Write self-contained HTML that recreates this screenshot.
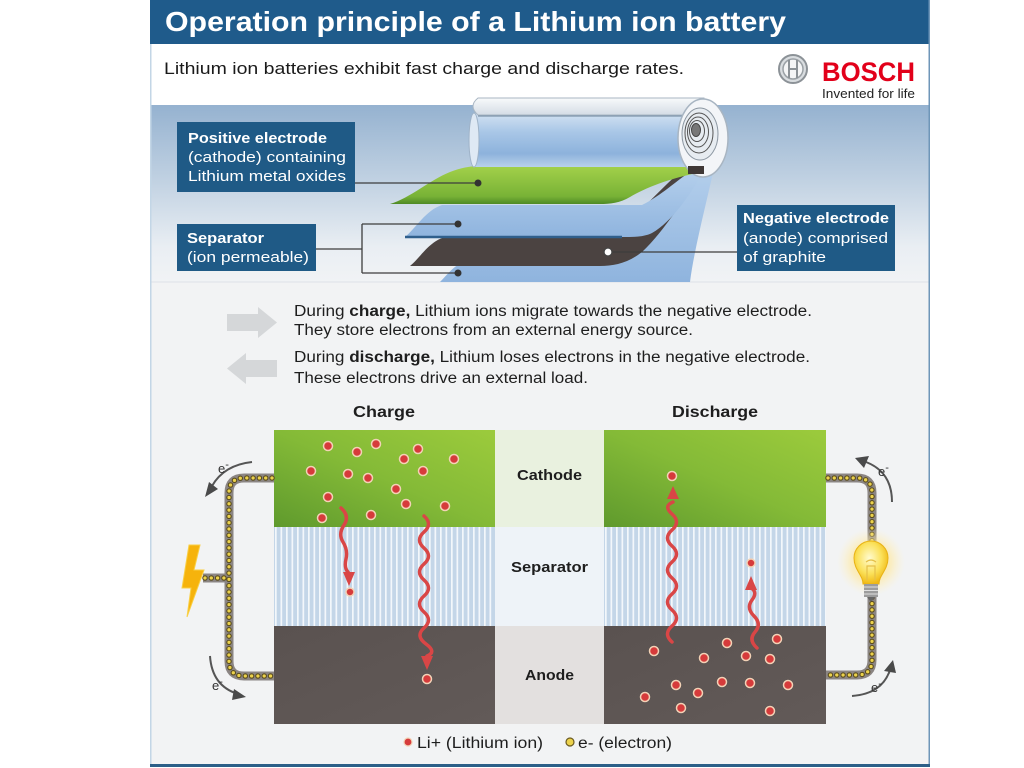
<!DOCTYPE html>
<html><head><meta charset="utf-8"><style>
html,body{margin:0;padding:0;background:#fff;width:1024px;height:768px;overflow:hidden}
svg{display:block}
text{font-family:"Liberation Sans",Arial,sans-serif}
</style></head><body>
<svg width="1024" height="768" viewBox="0 0 1024 768" xmlns="http://www.w3.org/2000/svg">
<defs>
<linearGradient id="band" x1="0" y1="0" x2="0" y2="1">
<stop offset="0" stop-color="#95b2d0"/><stop offset="0.45" stop-color="#c3d3e3"/><stop offset="0.8" stop-color="#e9eef3"/><stop offset="1" stop-color="#f1f3f5"/>
</linearGradient>
<linearGradient id="cyl" x1="0" y1="0" x2="0" y2="1">
<stop offset="0" stop-color="#d3e2f2"/><stop offset="0.35" stop-color="#a9c7e7"/><stop offset="0.75" stop-color="#8db2dc"/><stop offset="1" stop-color="#b9d1ea"/>
</linearGradient>
<linearGradient id="shell" x1="0" y1="0" x2="0" y2="1">
<stop offset="0" stop-color="#f8fafb"/><stop offset="1" stop-color="#d4dce5"/>
</linearGradient>
<linearGradient id="gsheet" x1="0" y1="0" x2="0" y2="1">
<stop offset="0" stop-color="#a3d14a"/><stop offset="0.8" stop-color="#78b236"/><stop offset="1" stop-color="#4e8a25"/>
</linearGradient>
<linearGradient id="bsheet" x1="0" y1="0" x2="0" y2="1">
<stop offset="0" stop-color="#b4cfec"/><stop offset="1" stop-color="#8fb4de"/>
</linearGradient>
<linearGradient id="green" x1="0" y1="1" x2="1" y2="0">
<stop offset="0" stop-color="#5f9a2d"/><stop offset="0.5" stop-color="#84ba37"/><stop offset="1" stop-color="#9ccb3c"/>
</linearGradient>
<linearGradient id="anode" x1="0" y1="0" x2="1" y2="1">
<stop offset="0" stop-color="#5a5250"/><stop offset="1" stop-color="#625a58"/>
</linearGradient>
<pattern id="stripes" width="5.5" height="10" patternUnits="userSpaceOnUse">
<rect width="5.5" height="10" fill="#c4d6e8"/><rect x="0" width="1.7" height="10" fill="#f3f7fb"/>
</pattern>
<radialGradient id="glow" cx="0.5" cy="0.5" r="0.5">
<stop offset="0" stop-color="#ffe27a" stop-opacity="0.95"/><stop offset="0.6" stop-color="#ffe9a0" stop-opacity="0.6"/><stop offset="1" stop-color="#fff3c8" stop-opacity="0"/>
</radialGradient>
<radialGradient id="glass" cx="0.45" cy="0.4" r="0.6">
<stop offset="0" stop-color="#fffbd0"/><stop offset="0.6" stop-color="#fbe15a"/><stop offset="1" stop-color="#f0b915"/>
</radialGradient>
</defs>

<!-- frame -->
<rect x="150" y="0" width="780" height="767" fill="#f2f3f4"/>
<rect x="150" y="0" width="779" height="44" fill="#1f5b8b"/>
<rect x="150" y="44" width="779" height="61" fill="#ffffff"/>
<rect x="150" y="105" width="779" height="177" fill="url(#band)"/>
<line x1="150" y1="282" x2="929" y2="282" stroke="#dde2e7" stroke-width="1"/>
<rect x="150" y="44" width="1.5" height="722" fill="#c3d6e6"/>
<rect x="928.5" y="0" width="1.5" height="767" fill="#6f96b8"/>
<rect x="150" y="764" width="780" height="3" fill="#2c5f88"/>

<!-- title -->
<text x="165" y="31" font-size="28" font-weight="bold" fill="#fff" textLength="621" lengthAdjust="spacingAndGlyphs">Operation principle of a Lithium ion battery</text>
<text x="164" y="74" font-size="17" fill="#1a1a1a" textLength="520" lengthAdjust="spacingAndGlyphs">Lithium ion batteries exhibit fast charge and discharge rates.</text>

<!-- bosch logo -->
<circle cx="793" cy="69" r="14" fill="#d9dde0" stroke="#8c9297" stroke-width="2"/>
<circle cx="793" cy="69" r="10" fill="#f4f5f6" stroke="#9aa0a5" stroke-width="1.5"/>
<line x1="789" y1="60" x2="789" y2="78" stroke="#8c9297" stroke-width="2"/>
<line x1="797" y1="60" x2="797" y2="78" stroke="#8c9297" stroke-width="2"/>
<line x1="789" y1="69" x2="797" y2="69" stroke="#8c9297" stroke-width="2"/>
<text x="822" y="81" font-size="27" font-weight="bold" fill="#e2001a" textLength="93" lengthAdjust="spacingAndGlyphs">BOSCH</text>
<text x="822" y="98" font-size="13" fill="#222" textLength="93" lengthAdjust="spacingAndGlyphs">Invented for life</text>

<!-- battery roll illustration -->
<path d="M440,282 C450,272 456,262 472,260 L602,260 C640,248 666,200 690,172 L714,168 C706,205 694,250 690,282 Z" fill="url(#bsheet)"/>
<path d="M410,266 C420,258 430,240 446,237 L596,237 C628,230 652,196 680,172 L704,172 C688,192 664,232 642,252 C628,263 614,266 600,266 Z" fill="#4b4341"/>
<path d="M405,237 C416,228 426,210 442,205 L642,205 C662,195 676,181 690,172 L702,174 C692,192 672,222 652,233 C644,237 634,237 622,237 Z" fill="url(#bsheet)"/>
<path d="M405,237 L622,237" stroke="#2f5f8c" stroke-width="2.5"/>
<path d="M390,204 C410,198 430,180 450,172 C460,168 470,166 480,166 L688,166 C698,166 702,170 698,173 C680,176 650,185 630,197 C620,203 610,204 600,204 Z" fill="url(#gsheet)"/>
<rect x="474" y="113" width="228" height="54" fill="url(#cyl)"/>
<ellipse cx="474" cy="140" rx="5" ry="27" fill="#dfe9f4" stroke="#9fb3c8" stroke-width="1"/>
<path d="M478,98 L704,98 L704,115 L478,115 Q468,106 478,98 Z" fill="url(#shell)" stroke="#a9b6c3" stroke-width="1"/>
<line x1="478" y1="116" x2="700" y2="116" stroke="#7f95aa" stroke-width="1.2"/>
<ellipse cx="703" cy="138" rx="25" ry="39" fill="#f3f5f8" stroke="#a8b5c2" stroke-width="1.5"/>
<ellipse cx="700" cy="134" rx="18" ry="26" fill="#e7ecf1" stroke="#8b96a1" stroke-width="1"/>
<ellipse cx="699" cy="133" rx="14" ry="20" fill="none" stroke="#555" stroke-width="1"/>
<ellipse cx="698" cy="132" rx="10.5" ry="15" fill="none" stroke="#555" stroke-width="1"/>
<ellipse cx="697" cy="131" rx="7.5" ry="10.5" fill="none" stroke="#555" stroke-width="1"/>
<ellipse cx="696" cy="130" rx="4.5" ry="6.5" fill="#777" stroke="#444" stroke-width="1"/>
<rect x="688" y="166" width="16" height="8" fill="#3f3836"/>

<!-- label boxes -->
<rect x="177" y="122" width="178" height="70" fill="#1f5a86"/>
<text x="188" y="143" font-size="15" font-weight="bold" fill="#fff" textLength="139" lengthAdjust="spacingAndGlyphs">Positive electrode</text>
<text x="188" y="162" font-size="15" fill="#fff" textLength="158" lengthAdjust="spacingAndGlyphs">(cathode) containing</text>
<text x="188" y="181" font-size="15" fill="#fff" textLength="158" lengthAdjust="spacingAndGlyphs">Lithium metal oxides</text>

<rect x="177" y="224" width="139" height="47" fill="#1f5a86"/>
<text x="187" y="243" font-size="15" font-weight="bold" fill="#fff" textLength="77" lengthAdjust="spacingAndGlyphs">Separator</text>
<text x="187" y="262" font-size="15" fill="#fff" textLength="122" lengthAdjust="spacingAndGlyphs">(ion permeable)</text>

<rect x="737" y="205" width="158" height="66" fill="#1f5a86"/>
<text x="743" y="223" font-size="15" font-weight="bold" fill="#fff" textLength="146" lengthAdjust="spacingAndGlyphs">Negative electrode</text>
<text x="743" y="243" font-size="15" fill="#fff" textLength="145" lengthAdjust="spacingAndGlyphs">(anode) comprised</text>
<text x="743" y="262" font-size="15" fill="#fff" textLength="83" lengthAdjust="spacingAndGlyphs">of graphite</text>

<!-- leaders -->
<g stroke="#3d3d3d" stroke-width="1.3" fill="none">
<line x1="355" y1="183" x2="478" y2="183"/>
<line x1="316" y1="249" x2="362" y2="249"/>
<line x1="362" y1="224" x2="362" y2="273"/>
<line x1="362" y1="224" x2="458" y2="224"/>
<line x1="362" y1="273" x2="458" y2="273"/>
<line x1="612" y1="252" x2="737" y2="252"/>
</g>
<circle cx="478" cy="183" r="3.5" fill="#333"/>
<circle cx="458" cy="224" r="3.5" fill="#333"/>
<circle cx="458" cy="273" r="3.5" fill="#333"/>
<circle cx="608" cy="252" r="4" fill="#fff" stroke="#444" stroke-width="1.3"/>

<!-- explanation -->
<path d="M227,314 L258,314 L258,307 L277,322.5 L258,338 L258,331 L227,331 Z" fill="#d5d7d9"/>
<path d="M277,360 L246,360 L246,353 L227,368.5 L246,384 L246,377 L277,377 Z" fill="#d5d7d9"/>
<text x="294" y="316" font-size="15.5" fill="#1e1e1e" textLength="518" lengthAdjust="spacingAndGlyphs">During <tspan font-weight="bold">charge,</tspan> Lithium ions migrate towards the negative electrode.</text>
<text x="294" y="335" font-size="15.5" fill="#1e1e1e" textLength="399" lengthAdjust="spacingAndGlyphs">They store electrons from an external energy source.</text>
<text x="294" y="362" font-size="15.5" fill="#1e1e1e" textLength="516" lengthAdjust="spacingAndGlyphs">During <tspan font-weight="bold">discharge,</tspan> Lithium loses electrons in the negative electrode.</text>
<text x="294" y="383" font-size="15.5" fill="#1e1e1e" textLength="294" lengthAdjust="spacingAndGlyphs">These electrons drive an external load.</text>

<!-- diagram titles -->
<text x="384" y="417" font-size="16" font-weight="bold" fill="#1e1e1e" text-anchor="middle" textLength="62" lengthAdjust="spacingAndGlyphs">Charge</text>
<text x="715" y="417" font-size="16" font-weight="bold" fill="#1e1e1e" text-anchor="middle" textLength="86" lengthAdjust="spacingAndGlyphs">Discharge</text>

<!-- layers -->
<rect x="274" y="430" width="221" height="97" fill="url(#green)"/>
<rect x="274" y="527" width="221" height="99" fill="url(#stripes)"/>
<rect x="274" y="626" width="221" height="98" fill="url(#anode)"/>
<rect x="495" y="430" width="109" height="97" fill="#e9f1df"/>
<rect x="495" y="527" width="109" height="99" fill="#eef3f8"/>
<rect x="495" y="626" width="109" height="98" fill="#e3e0df"/>
<rect x="604" y="430" width="222" height="97" fill="url(#green)"/>
<rect x="604" y="527" width="222" height="99" fill="url(#stripes)"/>
<rect x="604" y="626" width="222" height="98" fill="url(#anode)"/>
<text x="549.5" y="480" font-size="15" font-weight="bold" fill="#1e1e1e" text-anchor="middle" textLength="65" lengthAdjust="spacingAndGlyphs">Cathode</text>
<text x="549.5" y="572" font-size="15" font-weight="bold" fill="#1e1e1e" text-anchor="middle" textLength="77" lengthAdjust="spacingAndGlyphs">Separator</text>
<text x="549.5" y="680" font-size="15" font-weight="bold" fill="#1e1e1e" text-anchor="middle" textLength="49" lengthAdjust="spacingAndGlyphs">Anode</text>

<!-- Li+ ions charge cathode -->
<g fill="#d63b3b" stroke="#f3d2b6" stroke-width="1.5">
<circle cx="328" cy="446" r="4.5"/><circle cx="357" cy="452" r="4.5"/><circle cx="376" cy="444" r="4.5"/>
<circle cx="418" cy="449" r="4.5"/><circle cx="404" cy="459" r="4.5"/><circle cx="454" cy="459" r="4.5"/>
<circle cx="311" cy="471" r="4.5"/><circle cx="348" cy="474" r="4.5"/><circle cx="368" cy="478" r="4.5"/>
<circle cx="423" cy="471" r="4.5"/><circle cx="396" cy="489" r="4.5"/><circle cx="328" cy="497" r="4.5"/>
<circle cx="406" cy="504" r="4.5"/><circle cx="445" cy="506" r="4.5"/><circle cx="322" cy="518" r="4.5"/>
<circle cx="371" cy="515" r="4.5"/>
<circle cx="350" cy="592" r="4"/><circle cx="427" cy="679" r="4.5"/>
<!-- discharge -->
<circle cx="672" cy="476" r="4.5"/><circle cx="751" cy="563" r="4"/>
<circle cx="654" cy="651" r="4.5"/><circle cx="727" cy="643" r="4.5"/><circle cx="777" cy="639" r="4.5"/>
<circle cx="704" cy="658" r="4.5"/><circle cx="746" cy="656" r="4.5"/><circle cx="770" cy="659" r="4.5"/>
<circle cx="676" cy="685" r="4.5"/><circle cx="722" cy="682" r="4.5"/><circle cx="750" cy="683" r="4.5"/>
<circle cx="788" cy="685" r="4.5"/><circle cx="645" cy="697" r="4.5"/><circle cx="698" cy="693" r="4.5"/>
<circle cx="681" cy="708" r="4.5"/><circle cx="770" cy="711" r="4.5"/>
</g>

<!-- wavy arrows -->
<g stroke="#d94646" stroke-width="3.5" fill="none" stroke-linecap="round">
<path d="M341,508 q9,8 3,17 t -1,17 t 3,17 t 2,13"/>
<path d="M424,516 q9,8 0,16 t 0,16 t 0,16 t 0,16 t 0,16 t 0,16 t 0,16 t 2,16 t 1,12"/>
<path d="M672,642 q-9,-8 0,-16 t 0,-16 t 0,-16 t 0,-16 t 0,-16 t 0,-16 t 0,-16 t 0,-16 t 1,-12"/>
<path d="M757,648 q-9,-8 -2,-16 t -1,-16 t -2,-16 t -1,-12"/>
</g>
<g fill="#d94646">
<polygon points="343,572 355,572 349,586"/>
<polygon points="421,656 433,656 427,670"/>
<polygon points="667,499 679,499 673,486"/>
<polygon points="745,590 757,590 751,576"/>
</g>

<!-- left circuit -->
<path d="M274,478 L244,478 Q229,478 229,493 L229,661 Q229,676 244,676 L274,676 M203,578 L229,578" fill="none" stroke="#8b8583" stroke-width="9"/>
<path d="M272,478 L244,478 Q229,478 229,493 L229,661 Q229,676 244,676 L272,676 M205,578 L226,578" fill="none" stroke="#5a4c1e" stroke-width="5.5" stroke-dasharray="0 6.3" stroke-linecap="round"/>
<path d="M272,478 L244,478 Q229,478 229,493 L229,661 Q229,676 244,676 L272,676 M205,578 L226,578" fill="none" stroke="#ecd24c" stroke-width="3.3" stroke-dasharray="0 6.3" stroke-linecap="round"/>
<polygon points="189,545 200,545 194,570 204,570 187,617 191,588 182,588" fill="#f6b30c" stroke="#f9cf45" stroke-width="1"/>

<!-- right circuit -->
<path d="M826,478 L857,478 Q872,478 872,493 L872,660 Q872,675 857,675 L826,675" fill="none" stroke="#8b8583" stroke-width="9"/>
<path d="M828,478 L857,478 Q872,478 872,493 L872,660 Q872,675 857,675 L828,675" fill="none" stroke="#5a4c1e" stroke-width="5.5" stroke-dasharray="0 6.3" stroke-linecap="round"/>
<path d="M828,478 L857,478 Q872,478 872,493 L872,660 Q872,675 857,675 L828,675" fill="none" stroke="#ecd24c" stroke-width="3.3" stroke-dasharray="0 6.3" stroke-linecap="round"/>
<circle cx="871" cy="562" r="34" fill="url(#glow)"/>
<path d="M863,584 C863,575 854,570 854,558 A17,17 0 1 1 888,558 C888,570 879,575 879,584 Z" fill="url(#glass)" stroke="#e8b214" stroke-width="1"/>
<path d="M867,580 L867,566 L875,566 L875,580 M866,562 Q871,558 876,562" fill="none" stroke="#e5c04a" stroke-width="1.2"/>
<rect x="864" y="584" width="14" height="13" fill="#9c9c9c"/>
<g stroke="#e0e0e0" stroke-width="1"><line x1="864" y1="587" x2="878" y2="587"/><line x1="864" y1="590.5" x2="878" y2="590.5"/><line x1="864" y1="594" x2="878" y2="594"/></g>
<path d="M867,597 L875,597 L872,601 L870,601 Z" fill="#666"/>

<!-- e- arrows -->
<g fill="none" stroke="#555" stroke-width="2">
<path d="M252,462 Q224,465 212,486"/>
<path d="M210,656 Q212,686 238,694"/>
<path d="M892,502 Q892,472 866,462"/>
<path d="M852,696 Q882,694 890,670"/>
</g>
<g fill="#4a4a4a">
<polygon points="205,497 209,482 218,489"/>
<polygon points="246,697 234,689 232,700"/>
<polygon points="855,458 869,456 864,468"/>
<polygon points="893,660 884,671 896,673"/>
</g>
<g font-size="13" fill="#333">
<text x="218" y="473">e<tspan dy="-5" font-size="11">-</tspan></text>
<text x="212" y="690">e<tspan dy="-5" font-size="11">-</tspan></text>
<text x="878" y="476">e<tspan dy="-5" font-size="11">-</tspan></text>
<text x="871" y="692">e<tspan dy="-5" font-size="11">-</tspan></text>
</g>

<!-- legend -->
<circle cx="408" cy="742" r="4" fill="#d63b3b" stroke="#f3d2b6" stroke-width="1.2"/>
<text x="417" y="748" font-size="15.5" fill="#1e1e1e" textLength="126" lengthAdjust="spacingAndGlyphs">Li+ (Lithium ion)</text>
<circle cx="570" cy="742" r="4" fill="#ecd24c" stroke="#6b5a20" stroke-width="1.2"/>
<text x="578" y="748" font-size="15.5" fill="#1e1e1e" textLength="94" lengthAdjust="spacingAndGlyphs">e- (electron)</text>
</svg>
</body></html>
